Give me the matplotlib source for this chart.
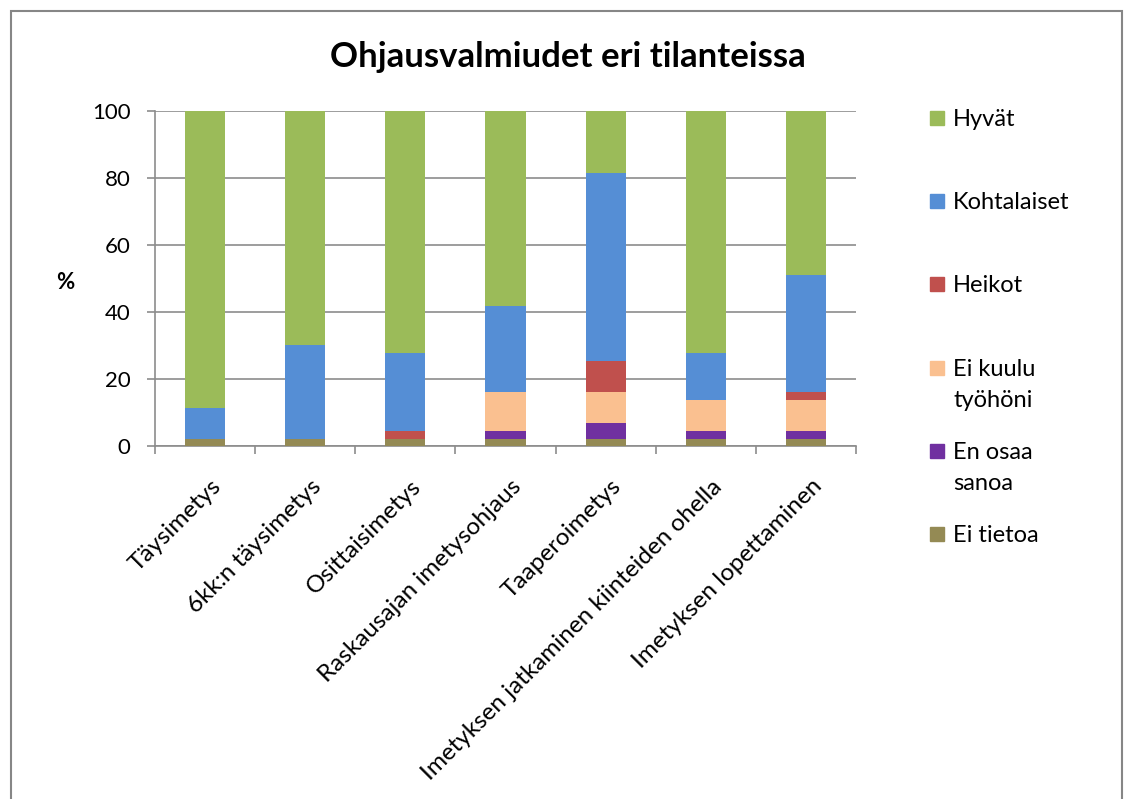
import matplotlib
matplotlib.use('Agg')
import matplotlib.pyplot as plt
from matplotlib.patches import Rectangle
from matplotlib.transforms import ScaledTranslation

plt.rcParams['font.family'] = ['Lato', 'DejaVu Sans']

categories = ['Täysimetys', '6kk:n täysimetys', 'Osittaisimetys',
              'Raskausajan imetysohjaus', 'Taaperoimetys',
              'Imetyksen jatkaminen kiinteiden ohella', 'Imetyksen lopettaminen']

# segments from bottom to top, % of answers
ei_tietoa = [2.3, 2.3, 2.3, 2.3, 2.3, 2.3, 2.3]
en_osaa = [0, 0, 0, 2.3, 4.7, 2.3, 2.3]
ei_kuulu = [0, 0, 0, 11.6, 9.3, 9.3, 9.3]
heikot = [0, 0, 2.3, 0, 9.3, 0, 2.3]
kohtalaiset = [9.3, 27.9, 23.3, 25.6, 55.8, 13.9, 34.9]
hyvat = [88.4, 69.8, 72.1, 58.1, 18.6, 72.1, 48.8]

series = [
    ('Ei tietoa', ei_tietoa, '#948A54'),
    ('En osaa\nsanoa', en_osaa, '#7030A0'),
    ('Ei kuulu\ntyöhöni', ei_kuulu, '#FAC090'),
    ('Heikot', heikot, '#C0504D'),
    ('Kohtalaiset', kohtalaiset, '#558ED5'),
    ('Hyvät', hyvat, '#9BBB59'),
]

fig = plt.figure(figsize=(11.25, 7.99), dpi=100)
ax = fig.add_axes([0.1378, 0.4412, 0.6231, 0.4199])

xs = range(len(categories))
bottom = [0] * len(categories)
for name, vals, col in series:
    ax.bar(xs, vals, 0.4, bottom=bottom, color=col, zorder=3)
    bottom = [b + v for b, v in zip(bottom, vals)]

ax.set_ylim(0, 100)
ax.set_xlim(-0.5, len(categories) - 0.5)
ax.set_yticks([0, 20, 40, 60, 80, 100])
ax.yaxis.grid(True, color='#8c8c8c', linewidth=1.2, zorder=0)
for s in ['top', 'right']:
    ax.spines[s].set_visible(False)
for s in ['left', 'bottom']:
    ax.spines[s].set_color('#8c8c8c')
    ax.spines[s].set_linewidth(1.2)

ax.set_xticks(list(xs))
ax.set_xticklabels(categories, rotation=45, ha='right', rotation_mode='anchor', fontsize=17.5)
ax.set_xticks([i - 0.5 for i in range(len(categories) + 1)], minor=True)
ax.tick_params(axis='x', which='major', length=0, pad=21)
ax.tick_params(axis='x', which='minor', length=6, color='#8c8c8c', width=1.2)
ax.tick_params(axis='y', length=5.5, color='#8c8c8c', width=1.2, labelsize=16, pad=12)
shift = ScaledTranslation(5 / 100, 0, fig.dpi_scale_trans)
for lab in ax.get_xticklabels():
    lab.set_transform(lab.get_transform() + shift)

fig.text(0.058, 0.646, '%', fontsize=16, fontweight='bold', ha='center', va='center')
fig.text(0.505, 0.929, 'Ohjausvalmiudet eri tilanteissa', fontsize=25,
         fontweight='bold', ha='center', va='center')

# legend, drawn by hand: top item first
W, H = 1125, 799
for i, (name, vals, col) in enumerate(reversed(series)):
    yc = 118 + i * 83.2
    fig.patches.append(Rectangle((930 / W, 1 - (yc + 7) / H), 14 / W, 14 / H,
                                 transform=fig.transFigure, color=col))
    fig.text(953 / W, 1 - (yc - 9) / H, name, fontsize=17, ha='left', va='top',
             linespacing=1.6)

# outer chart frame
fig.patches.append(Rectangle((11 / W, -0.05), 1111 / W, 1.05 - 11 / H,
                             transform=fig.transFigure, fill=False,
                             edgecolor='#868686', linewidth=1.5))

fig.savefig('out.png', dpi=100)
